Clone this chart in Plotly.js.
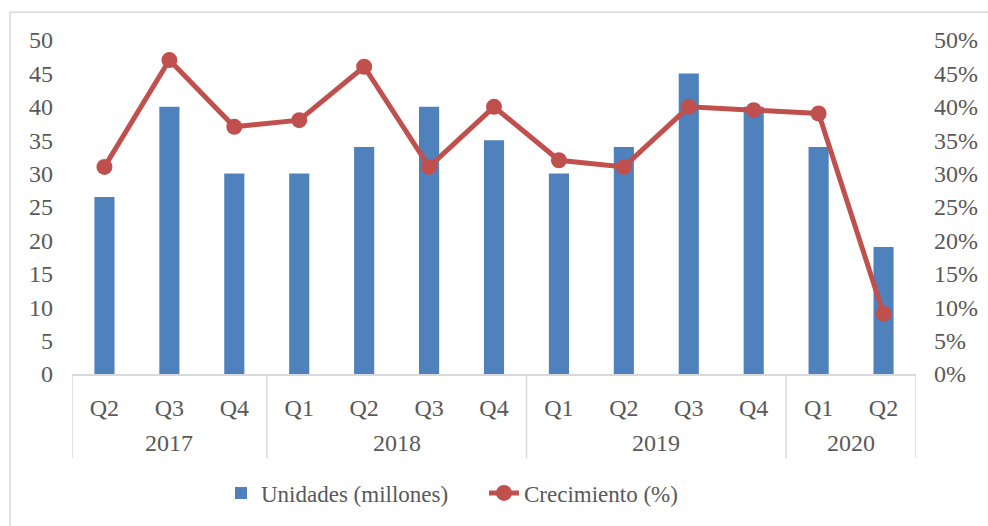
<!DOCTYPE html>
<html>
<head>
<meta charset="utf-8">
<script src="https://cdn.plot.ly/plotly-3.0.1.min.js"></script>
<style>html,body{margin:0;padding:0;background:#fff;}#chart{width:988px;height:526px;}</style>
</head>
<body>
<div id="chart"></div>
<script>
const years = ["2017","2017","2017","2018","2018","2018","2018","2019","2019","2019","2019","2020","2020"];
const quarters = ["Q2","Q3","Q4","Q1","Q2","Q3","Q4","Q1","Q2","Q3","Q4","Q1","Q2"];
const unidades = [26.5,40,30,30,34,40,35,30,34,45,40,34,19];
const crecimiento = [0.31,0.47,0.37,0.38,0.46,0.31,0.40,0.32,0.31,0.40,0.395,0.39,0.09];

const FONT = "Liberation Serif, Times New Roman, serif";
const font = {family: FONT, size: 24, color: "#595959"};
const legendFont = {family: FONT, size: 23, color: "#595959"};
const GRID = "#D9D9D9";

const cats = years.map((y, i) => y + " " + quarters[i]);

// year groups (from the data arrays)
const groups = [];
years.forEach((y, i) => {
  const g = groups[groups.length - 1];
  if (g && g.year === y) g.last = i; else groups.push({year: y, first: i, last: i});
});

// plot area geometry (px)
const L = 72, R = 72, T = 40, B = 149, W = 988, H = 526;
const plotW = W - L - R, plotH = H - T - B;
const py = px => -(px - (H - B)) / plotH;   // pixel y -> paper y

const annotations = groups.map(g => ({
  xref: "x", yref: "paper", x: (g.first + g.last) / 2, y: py(447),
  text: g.year, showarrow: false, font: font, xanchor: "center", yanchor: "middle"
}));

const shapes = [];
const bounds = [groups[0].first - 0.5].concat(groups.map(g => g.last + 0.5));
bounds.forEach(b => shapes.push({
  type: "line", xref: "x", yref: "paper", x0: b, x1: b, y0: 0, y1: py(462),
  line: {color: GRID, width: 1.5}
}));
shapes.push({
  type: "rect", xref: "paper", yref: "paper",
  x0: (10 - L) / plotW, x1: (1005 - L) / plotW, y0: py(545), y1: py(12),
  line: {color: GRID, width: 1.5}, fillcolor: "rgba(0,0,0,0)", layer: "below"
});

const traces = [
  {type: "bar", name: "Unidades (millones)", x: cats, y: unidades,
   marker: {color: "#4F81BD"}, width: 0.31, yaxis: "y"},
  {type: "scatter", mode: "lines+markers", name: "Crecimiento (%)", x: cats, y: crecimiento,
   line: {color: "#C0504D", width: 5}, marker: {color: "#C0504D", size: 16}, yaxis: "y2"}
];

const layout = {
  width: W, height: H,
  margin: {l: L, r: R, t: T, b: B},
  paper_bgcolor: "#fff", plot_bgcolor: "#fff",
  font: font,
  showlegend: true,
  legend: {orientation: "h", x: 0.5 - 10 / plotW, xanchor: "center", y: py(497), yanchor: "middle",
           font: legendFont, entrywidth: 218, entrywidthmode: "pixels"},
  xaxis: {type: "category", range: [-0.5, cats.length - 0.5], tickvals: cats, ticktext: quarters,
          showline: true, linecolor: GRID, linewidth: 1.5, ticks: "", tickfont: font,
          showgrid: false, zeroline: false, automargin: false, ticklabelstandoff: 12},
  yaxis: {range: [0, 50], dtick: 5, showgrid: false, zeroline: false, showline: false,
          tickfont: font, ticks: "", automargin: false, ticklabelstandoff: 18},
  yaxis2: {range: [0, 0.5], dtick: 0.05, tickformat: ".0%", overlaying: "y", side: "right",
           showgrid: false, zeroline: false, showline: false, tickfont: font, ticks: "",
           automargin: false, ticklabelstandoff: 17},
  annotations: annotations,
  shapes: shapes
};

Plotly.newPlot("chart", traces, layout, {displayModeBar: false, staticPlot: true});
</script>
</body>
</html>
